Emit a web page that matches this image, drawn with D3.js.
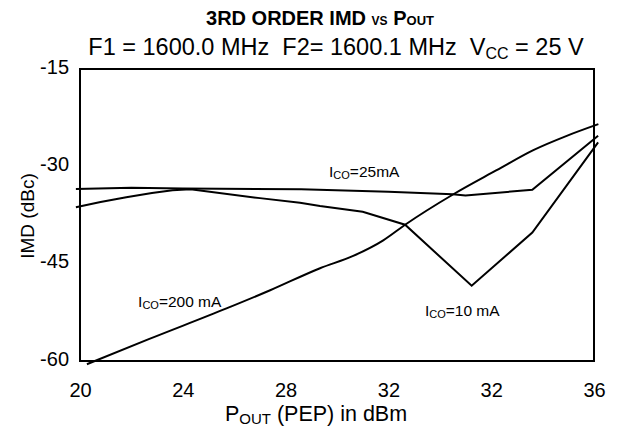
<!DOCTYPE html>
<html>
<head>
<meta charset="utf-8">
<script src="https://cdn.jsdelivr.net/npm/d3@7"></script>
<style>
body { margin: 0; background: #fff; }
text { font-family: "Liberation Sans", Arial, sans-serif; fill: #000; }
</style>
</head>
<body>
<script>
// tick labels (the source chart really prints 32 twice)
var xTicks = [20, 24, 28, 32, 36, 40];
var xTickLabels = ["20", "24", "28", "32", "32", "36"];
var yTicks = [-15, -30, -45, -60];

// ICO = 200 mA
var pout200 = [20.27, 22.7, 25.7, 27.4, 29.34, 30.63, 31.8, 32.65, 34.53, 36.21, 37.64, 38.94, 40.17];
var imd200 = [-60.5, -56.6, -51.9, -49.1, -45.7, -43.8, -41.4, -39.0, -34.3, -30.6, -27.5, -25.3, -23.5];
// ICO = 25 mA
var pout25 = [19.84, 22, 24, 28.6, 32, 34.5, 35.0, 37.6, 40.16];
var imd25 = [-33.5, -33.3, -33.4, -33.55, -33.9, -34.3, -34.5, -33.6, -25.3];
// ICO = 10 mA
var pout10 = [19.84, 20.8, 21.8, 22.8, 23.6, 24.3, 27.0, 28.56, 29.34, 31.0, 32.65, 35.24, 37.6, 40.16];
var imd10 = [-36.3, -35.5, -34.75, -34.1, -33.7, -33.55, -34.9, -35.6, -36.1, -37.0, -39.0, -48.4, -40.2, -26.3];

var width = 618, height = 435;
var mLeft = 80, mRight = 594, mTop = 69, mBottom = 361;

var svg = d3.select("body").append("svg").attr("width", width).attr("height", height);

var x = d3.scaleLinear().domain([20, 40]).range([mLeft, mRight]);
var y = d3.scaleLinear().domain([-60, -15]).range([mBottom, mTop]);

// title
var t1 = svg.append("text").attr("x", 320).attr("y", 25).attr("text-anchor", "middle")
  .style("font-size", "20px").style("font-weight", "bold");
t1.append("tspan").text("3RD ORDER IMD ");
t1.append("tspan").style("font-size", "12px").text("VS");
t1.append("tspan").text(" P");
t1.append("tspan").style("font-size", "13px").text("OUT");

var t2 = svg.append("text").attr("x", 336).attr("y", 55).attr("text-anchor", "middle")
  .attr("xml:space", "preserve").style("font-size", "23.5px");
t2.append("tspan").text("F1 = 1600.0 MHz  F2= 1600.1 MHz  V");
t2.append("tspan").style("font-size", "16px").attr("dy", 4).text("CC");
t2.append("tspan").attr("dy", -4).text(" = 25 V");

// frame
svg.append("rect").attr("x", mLeft).attr("y", mTop).attr("width", mRight - mLeft).attr("height", mBottom - mTop)
  .attr("fill", "none").attr("stroke", "#000").attr("stroke-width", 2);

// axes, labels only
var xAxis = svg.append("g").attr("transform", "translate(0," + mBottom + ")")
  .call(d3.axisBottom(x).tickValues(xTicks).tickSize(0).tickPadding(22)
    .tickFormat(function(d, i) { return xTickLabels[i]; }));
xAxis.select(".domain").remove();
xAxis.selectAll("text").style("font-size", "20px");

var yAxis = svg.append("g").attr("transform", "translate(" + mLeft + ",0)")
  .call(d3.axisLeft(y).tickValues(yTicks).tickSize(0).tickPadding(11)
    .tickFormat(function(d) { return String(d); }));
yAxis.select(".domain").remove();
yAxis.selectAll("text").style("font-size", "20px").attr("dy", "0.2em");

// axis titles
var xt = svg.append("text").attr("x", 316).attr("y", 421).attr("text-anchor", "middle").style("font-size", "21.5px");
xt.append("tspan").text("P");
xt.append("tspan").style("font-size", "15px").attr("dy", 3).text("OUT");
xt.append("tspan").attr("dy", -3).text(" (PEP) in dBm");

svg.append("text").attr("transform", "translate(34,216) rotate(-90)").attr("text-anchor", "middle")
  .style("font-size", "19px").text("IMD (dBc)");

// curves
var series = [
  { xs: pout200, ys: imd200, curve: d3.curveMonotoneX },
  { xs: pout25, ys: imd25, curve: d3.curveLinear },
  { xs: pout10, ys: imd10, curve: d3.curveLinear }
];
var line = d3.line();
series.forEach(function(s) {
  var pts = s.xs.map(function(v, i) { return [x(v), y(s.ys[i])]; });
  svg.append("path").attr("d", line.curve(s.curve)(pts))
    .attr("fill", "none").attr("stroke", "#000").attr("stroke-width", 2);
});

// curve labels
function label(px, py, sub, rest) {
  var t = svg.append("text").attr("x", x(px)).attr("y", y(py)).style("font-size", "15.5px");
  t.append("tspan").text("I");
  t.append("tspan").style("font-size", "11px").attr("dy", 2).text(sub);
  t.append("tspan").attr("dy", -2).text(rest);
}
label(29.69, -31.64, "CO", "=25mA");
label(33.42, -53.0, "CO", "=10 mA");
label(22.26, -51.7, "CO", "=200 mA");
</script>
</body>
</html>
